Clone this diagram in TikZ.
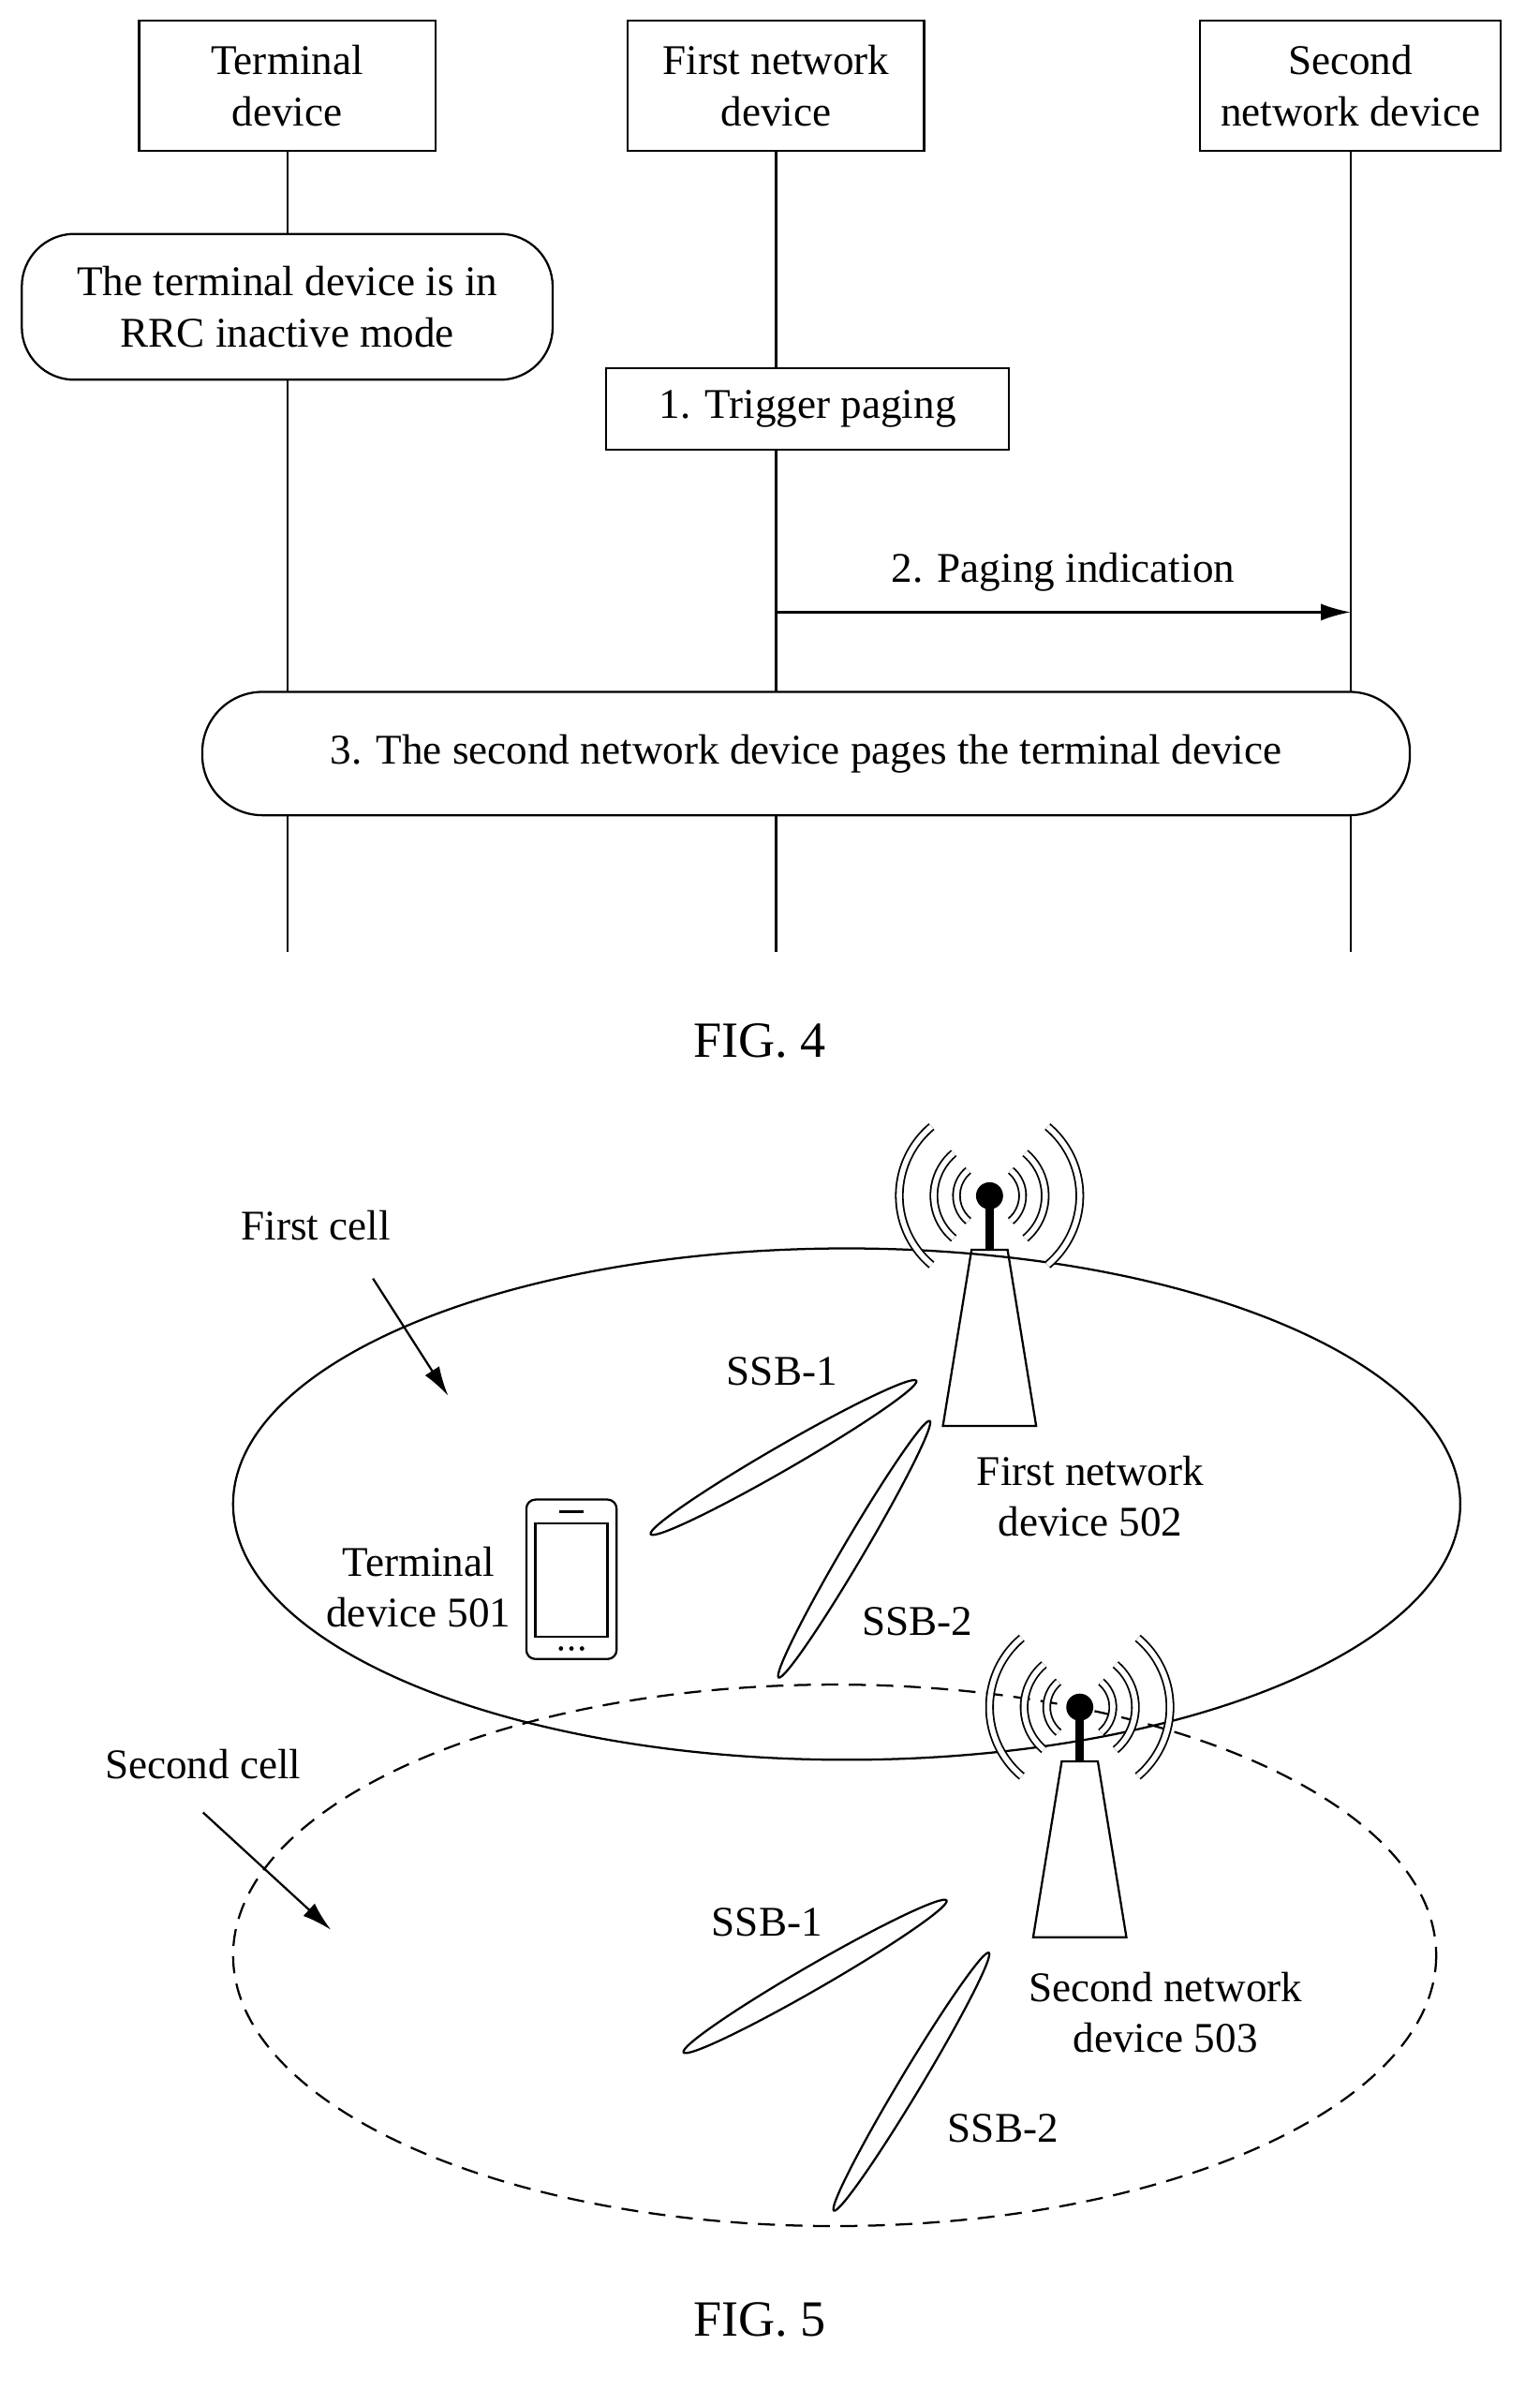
\documentclass[tikz,border=0pt]{standalone}
\usepackage{fontspec}
\setmainfont{Liberation Serif}
\usetikzlibrary{arrows.meta}
\newlength{\pxu}\setlength{\pxu}{0.025cm}
\tikzset{
  box/.style={draw,line width=1pt,minimum width=197\pxu,minimum height=87\pxu,align=center},
  lbl/.style={align=center},
  fig/.style={font=\fontsize{24}{28}\selectfont},
  wave/.style={double,double distance=2.5pt,line width=0.8pt},
  beam/.style={draw,line width=1pt}
}
\newcommand{\tower}[2]{%
  \fill (#1,#2) circle (9);
  \draw[line width=4pt] (#1,#2) -- (#1,#2+36);
  \draw[line width=1pt] (#1-12,#2+36) -- (#1+12,#2+36) -- (#1+31,#2+153) -- (#1-31,#2+153) -- cycle;
  \foreach \r in {22,37,60}{
    \draw[wave] (#1,#2) ++(50:\r) arc (50:-50:\r);
    \draw[wave] (#1,#2) ++(130:\r) arc (130:230:\r);
  }}
\begin{document}
\begin{tikzpicture}[x=0.025cm,y=-0.025cm,font=\fontsize{20}{24}\selectfont,line width=1pt]
\useasboundingbox (0,0) rectangle (1024,1589);
% FIG. 4
\node[box] (td) at (191,57) {Terminal\\device};
\node[box] (fn) at (516,57) {First network\\device};
\node[box,minimum width=200\pxu] (sn) at (898,57) {Second\\network device};
\coordinate (tdend) at (191,633);
\coordinate (fnend) at (516,633);
\coordinate (snend) at (898,633);
\draw (td) -- (tdend);
\draw (fn) -- (fnend);
\draw (sn) -- (snend);
\node[draw,fill=white,rounded corners=35\pxu,minimum width=353\pxu,minimum height=97\pxu,align=center] (inact) at (191,204) {The terminal device is in\\RRC inactive mode};
\node[draw,fill=white,minimum width=268\pxu,minimum height=54\pxu] (trig) at (537,272) {1. Trigger paging};
\coordinate (a1) at (516,407);
\coordinate (a2) at (898,407);
\draw[-{Latex[length=14pt,width=8pt]}] (a1) -- (a2) node[midway,above=6pt] {2. Paging indication};
\node[draw,fill=white,rounded corners=40\pxu,minimum width=803\pxu,minimum height=82\pxu] (page) at (536,501) {3. The second network device pages the terminal device};
\node[fig] (fig4) at (505,692) {FIG. 4};
% FIG. 5
\draw (563,1000) ellipse (408 and 170);
\draw[dash pattern=on 8pt off 5pt] (555,1300) ellipse (400 and 180);
\tower{658}{795}
\tower{718}{1135}
% beams
\draw[beam,rotate around={30:(521,969)}] (521,969) ellipse (102 and 8);
\draw[beam,rotate around={59.5:(568,1030)}] (568,1030) ellipse (99 and 7);
\draw[beam,rotate around={30:(542,1314)}] (542,1314) ellipse (101 and 8);
\draw[beam,rotate around={59:(606,1384)}] (606,1384) ellipse (100 and 7);
% phone
\draw[rounded corners=6\pxu] (350,997) rectangle (410,1103);
\draw (356,1013) rectangle (404,1088);
\draw (372,1005) -- (388,1005);
\foreach \x in {373,380,387} \fill (\x,1096) circle (1.5);
\node[lbl] (c1) at (210,815) {First cell};
\coordinate (c1a) at (248,850);
\coordinate (c1b) at (298,928);
\draw[-{Latex[length=14pt,width=8pt]}] (c1a) -- (c1b);
\node[lbl] (c2) at (135,1173) {Second cell};
\coordinate (c2a) at (135,1205);
\coordinate (c2b) at (220,1283);
\draw[-{Latex[length=14pt,width=8pt]}] (c2a) -- (c2b);
\node[lbl] (s11) at (520,912) {SSB-1};
\node[lbl] (s12) at (610,1078) {SSB-2};
\node[lbl] (fnd) at (725,995) {First network\\device 502};
\node[lbl,anchor=east] (tdd) at (345,1055) {Terminal\\device 501};
\node[lbl] (s21) at (510,1278) {SSB-1};
\node[lbl] (snd) at (775,1338) {Second network\\device 503};
\node[lbl] (s22) at (667,1415) {SSB-2};
\node[fig] (fig5) at (505,1542) {FIG. 5};
\end{tikzpicture}
\end{document}
